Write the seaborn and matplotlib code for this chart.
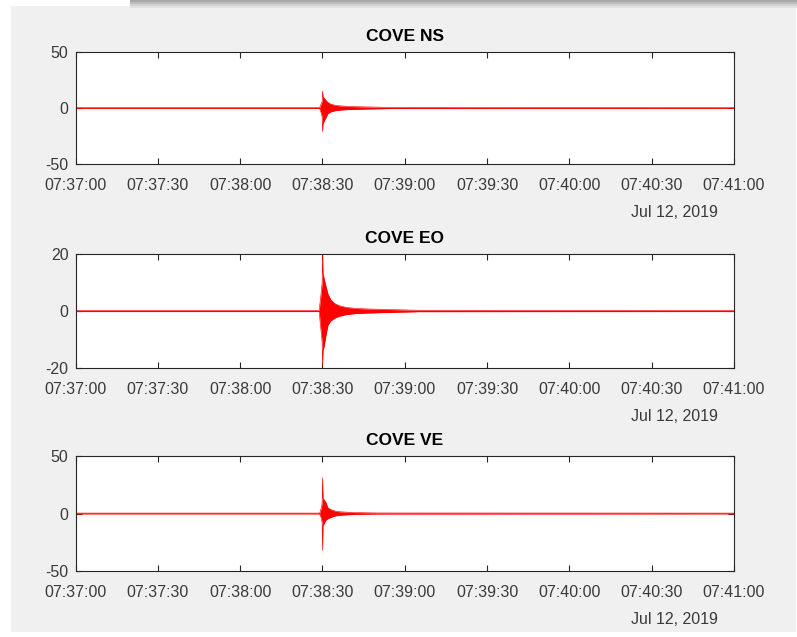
import matplotlib
matplotlib.use("Agg")
import matplotlib.pyplot as plt
import matplotlib.dates as mdates
from matplotlib.patches import Rectangle
import seaborn as sns
import pandas as pd

# ---- data (envelope of each seismogram) ----
start_time = "2019-07-12 07:37:00"
titles = ["COVE NS", "COVE EO", "COVE VE"]
y_limits = [(-50, 50), (-20, 20), (-50, 50)]
y_ticks = [[-50, 0, 50], [-20, 0, 20], [-50, 0, 50]]
x_tick_seconds = [0, 30, 60, 90, 120, 150, 180, 210, 240]
date_label = "Jul 12, 2019"

ns_t = [0, 89.0, 89.6, 89.9, 90.05, 90.2, 90.6, 91.2, 92.0, 93.0, 94.5, 96.0, 98.5, 102, 107, 115, 240]
ns_hi = [0.4, 0.4, 4, 6, 15, 10, 9, 7, 5, 3.5, 2.5, 2, 1.5, 1.2, 0.9, 0.5, 0.4]
ns_lo = [-0.4, -0.4, -5, -8, -21, -14, -12, -9, -5, -3.5, -2.5, -2, -1.5, -1.2, -0.9, -0.5, -0.4]

eo_t = [0, 88.8, 89.5, 89.9, 90.05, 90.2, 90.6, 91.2, 92.0, 93.0, 94.5, 96.0, 98.5, 102, 107, 115, 125, 240]
eo_hi = [0.2, 0.2, 6, 10, 21, 13, 11.5, 9, 6, 4, 2.6, 1.9, 1.3, 0.9, 0.7, 0.5, 0.25, 0.2]
eo_lo = [-0.2, -0.2, -7, -11, -19, -14, -12.5, -9, -5, -3.5, -2.5, -1.9, -1.3, -0.9, -0.7, -0.5, -0.25, -0.2]

ve_t = [0, 89.0, 89.6, 89.9, 90.05, 90.2, 90.6, 91.2, 92.0, 93.0, 94.5, 96.0, 98.5, 102, 110, 240]
ve_hi = [0.35, 0.35, 5, 9, 31, 13, 12, 10, 5, 3.5, 2.2, 1.6, 1.2, 0.8, 0.45, 0.35]
ve_lo = [-0.35, -0.35, -4, -8, -32, -10.5, -9, -6, -4.5, -3.5, -2.2, -1.6, -1.2, -0.8, -0.45, -0.35]

channels = [(ns_t, ns_hi, ns_lo), (eo_t, eo_hi, eo_lo), (ve_t, ve_hi, ve_lo)]

# ---- style ----
sns.set_theme(style="white")
plt.rcParams["font.family"] = ["Liberation Sans", "DejaVu Sans"]
plt.rcParams["axes.unicode_minus"] = False

W, H = 797, 637
fig = plt.figure(figsize=(W / 100, H / 100), dpi=100)
fig.patch.set_facecolor("white")

# MATLAB-like window background
fig.add_artist(Rectangle((11 / W, 1 - 632 / H), (796 - 11) / W, (632 - 6) / H,
                         transform=fig.transFigure, facecolor="#f0f0f0", edgecolor="none", zorder=-10))
shades = ["#a8a8a8", "#bdbdbd", "#d2d2d2", "#e2e2e2"]
for i, c in enumerate(shades):
    fig.add_artist(Rectangle((130 / W, 1 - (i + 1) * 2 / H), (W - 130) / W, 2 / H,
                             transform=fig.transFigure, facecolor=c, edgecolor="none", zorder=-9))

axes_px = [(52, 164), (254, 368), (456, 571)]
left_px, right_px = 75.5, 734
base = pd.Timestamp(start_time)
dark = "#262626"

for k, ((t, hi, lo), (top, bot)) in enumerate(zip(channels, axes_px)):
    ax = fig.add_axes([left_px / W, 1 - bot / H, (right_px - left_px) / W, (bot - top) / H])
    ax.set_facecolor("white")
    df = pd.DataFrame({"time": base + pd.to_timedelta(t, unit="s"), "hi": hi, "lo": lo})
    ax.fill_between(df["time"], df["lo"], df["hi"], color="#ff0000", lw=0)
    sns.lineplot(data=df, x="time", y="hi", ax=ax, color="#ff0000", lw=0.45)
    sns.lineplot(data=df, x="time", y="lo", ax=ax, color="#ff0000", lw=0.45)

    ax.set_xlim(base, base + pd.Timedelta(seconds=240))
    ax.set_ylim(*y_limits[k])
    ax.set_xticks([base + pd.Timedelta(seconds=s) for s in x_tick_seconds])
    ax.xaxis.set_major_formatter(mdates.DateFormatter("%H:%M:%S"))
    ax.set_yticks(y_ticks[k])
    ax.set_yticklabels([str(v) for v in y_ticks[k]])
    ax.set_xlabel("")
    ax.set_ylabel("")
    ax.tick_params(direction="in", length=4, width=0.8, colors=dark, labelsize=11.5,
                   top=True, right=True, bottom=True, left=True)
    ax.tick_params(axis="x", pad=10, labelcolor="#3a3a3a")
    ax.tick_params(axis="y", pad=5, labelcolor="#3a3a3a")
    for sp in ax.spines.values():
        sp.set_visible(True)
        sp.set_color(dark)
        sp.set_linewidth(0.8)
    ax.set_title(titles[k], fontsize=12.5, fontweight="bold", color="black", pad=8)
    ax.annotate(date_label, xy=(0.909, 0), xycoords="axes fraction",
                xytext=(0, -35), textcoords="offset points",
                ha="center", va="center", fontsize=11.5, color="#3a3a3a")

fig.savefig("out.png", dpi=100, facecolor=fig.get_facecolor())
